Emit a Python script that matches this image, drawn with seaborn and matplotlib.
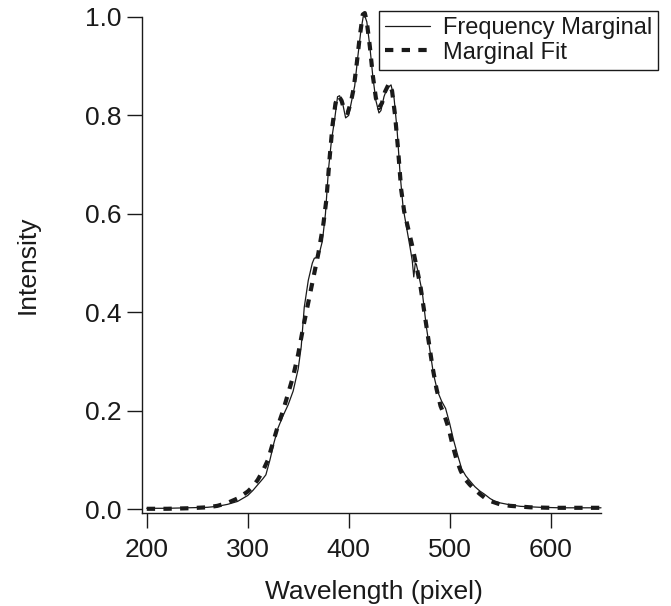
import numpy as np
import pandas as pd
import matplotlib
matplotlib.use('Agg')
import matplotlib.pyplot as plt
import seaborn as sns

# frequency marginal (solid)
freq_x = [200, 220, 240, 260, 270, 280, 290, 300, 305, 310, 315, 318, 322, 326,
          330, 335, 340, 345, 350, 353, 356, 360, 364, 366, 370, 374, 377, 380,
          383, 386, 389, 391, 394, 397, 400, 403, 406, 409, 412, 415, 418, 421,
          424, 427, 430, 432, 435, 438, 442, 445, 448, 451, 454, 458, 461, 463,
          464.5, 466, 467, 469, 473, 477, 480, 484, 488, 492, 496, 500, 504, 508,
          512, 516, 520, 525, 530, 535, 540, 545, 550, 560, 570, 590, 610, 630, 650]
freq_y = [0.002, 0.002, 0.003, 0.004, 0.006, 0.010, 0.016, 0.028, 0.038, 0.050,
          0.062, 0.070, 0.100, 0.135, 0.165, 0.190, 0.212, 0.240, 0.285, 0.330,
          0.410, 0.465, 0.500, 0.510, 0.512, 0.545, 0.600, 0.690, 0.750, 0.790,
          0.838, 0.840, 0.825, 0.795, 0.800, 0.830, 0.860, 0.918, 0.970, 1.008,
          0.990, 0.940, 0.878, 0.830, 0.805, 0.810, 0.838, 0.855, 0.862, 0.835,
          0.770, 0.680, 0.612, 0.565, 0.530, 0.505, 0.472, 0.500, 0.498, 0.480,
          0.440, 0.370, 0.330, 0.275, 0.240, 0.220, 0.205, 0.175, 0.140, 0.110,
          0.082, 0.068, 0.058, 0.046, 0.037, 0.030, 0.022, 0.016, 0.013, 0.009,
          0.006, 0.004, 0.003, 0.003, 0.003]

# marginal fit (dashed)
fit_x = [200, 220, 240, 260, 270, 280, 290, 300, 305, 310, 315, 320, 325, 330,
         335, 340, 345, 350, 355, 360, 365, 370, 375, 378, 381, 384, 387, 390,
         393, 396, 399, 402, 405, 408, 411, 414, 416, 418, 421, 424, 427, 430,
         433, 436, 440, 443, 446, 449, 452, 455, 459, 463, 467, 471, 475, 479,
         483, 487, 491, 495, 499, 503, 507, 511, 515, 520, 525, 530, 535, 540,
         550, 560, 580, 600, 620, 650]
fit_y = [0.001, 0.001, 0.002, 0.004, 0.007, 0.013, 0.022, 0.036, 0.046, 0.060,
         0.078, 0.100, 0.135, 0.170, 0.200, 0.235, 0.270, 0.315, 0.370, 0.420,
         0.470, 0.520, 0.580, 0.630, 0.710, 0.780, 0.825, 0.840, 0.830, 0.808,
         0.805, 0.825, 0.855, 0.905, 0.960, 1.005, 1.008, 0.990, 0.940, 0.880,
         0.835, 0.815, 0.825, 0.848, 0.865, 0.850, 0.800, 0.730, 0.650, 0.605,
         0.570, 0.535, 0.495, 0.455, 0.400, 0.345, 0.290, 0.245, 0.210, 0.190,
         0.165, 0.130, 0.100, 0.078, 0.062, 0.050, 0.040, 0.031, 0.023, 0.017,
         0.010, 0.007, 0.004, 0.003, 0.003, 0.003]

x_ticks = [200, 300, 400, 500, 600]
y_ticks = [0.0, 0.2, 0.4, 0.6, 0.8, 1.0]

sns.set_style('ticks')
plt.rcParams['font.family'] = ['Liberation Sans', 'DejaVu Sans']

fig = plt.figure(figsize=(6.71, 6.06), dpi=100)
ax = fig.add_axes([0.2112, 0.1535, 0.6845, 0.8185])

freq = pd.DataFrame({'x': freq_x, 'y': freq_y})
fit = pd.DataFrame({'x': fit_x, 'y': fit_y})

sns.lineplot(data=freq, x='x', y='y', ax=ax, color='#1a1a1a', lw=0.9,
             sort=False, estimator=None, label='Frequency Marginal')
sns.lineplot(data=fit, x='x', y='y', ax=ax, color='#1a1a1a', lw=3.0,
             sort=False, estimator=None, label='Marginal Fit')
ax.lines[1].set_dashes((2.0, 2.0))
for ln in ax.lines:
    ln.set_clip_on(False)

ax.set_xlim(195, 650)
ax.set_ylim(-0.0075, 1.0)
ax.set_xticks(x_ticks)
ax.set_yticks(y_ticks)
ax.set_yticklabels(['%.1f' % v for v in y_ticks])

sns.despine(ax=ax)
for s in ['left', 'bottom']:
    ax.spines[s].set_linewidth(1.0)
    ax.spines[s].set_color('#1a1a1a')
ax.tick_params(direction='out', length=10.8, width=1.0, colors='#1a1a1a',
               labelsize=19, pad=4)
ax.tick_params(axis='x', pad=7)

ax.set_xlabel('Wavelength (pixel)', fontsize=19, color='#1a1a1a')
ax.set_ylabel('Intensity', fontsize=19, color='#1a1a1a')
ax.xaxis.set_label_coords(0.505, -0.135)
ax.yaxis.set_label_coords(-0.222, 0.5)

leg = ax.legend(loc='upper left', bbox_to_anchor=(0.565, 0.982),
                bbox_transform=fig.transFigure, borderaxespad=0,
                fontsize=17, frameon=True, fancybox=False,
                handlelength=1.9, handletextpad=0.55, labelspacing=0.12,
                borderpad=0.25)
leg.get_frame().set_edgecolor('#1a1a1a')
leg.get_frame().set_linewidth(1.0)
leg.get_frame().set_alpha(1)
for t in leg.get_texts():
    t.set_color('#1a1a1a')

fig.savefig('out.png', dpi=100)
